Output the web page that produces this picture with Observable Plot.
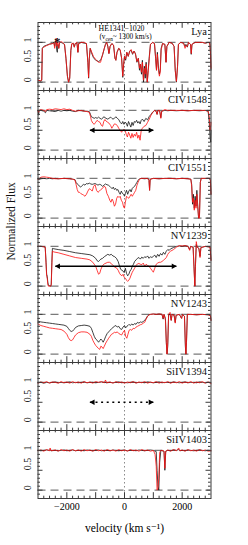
<!DOCTYPE html>
<html><head><meta charset="utf-8">
<script src="https://cdn.jsdelivr.net/npm/d3@7"></script>
<script src="https://cdn.jsdelivr.net/npm/@observablehq/plot@0.6"></script>
<style>body{margin:0;background:#fff}#chart{width:248px;height:545px}</style>
</head><body><div id="chart"></div>
<script>
// ---------------- data ----------------
const panels = ["Lya","CIV1548","CIV1551","NV1239","NV1243","SiIV1394","SiIV1403"];
const xMajorTicks = [-2000,-1000,0,1000,2000];
const xTickLabels = [-2000,0,2000];
const yMajorTicks = [0,0.5,1];
const yMinorTicks = [-0.1,0.1,0.2,0.3,0.4,0.6,0.7,0.8,0.9,1.1,1.2,1.3,1.4];
const xMinorTicks = [-2800,-2600,-2400,-2200,-1800,-1600,-1400,-1200,-800,-600,-400,-200,200,400,600,800,1200,1400,1600,1800,2200,2400,2600,2800];

// [velocity, black flux, red flux]
const lya = [[-3000,0.05,0.05],[-2900,0.03,0.03],[-2870,0.05,0.05],[-2850,0.85,0.85],[-2800,0.9,0.88],[-2700,0.93,0.92],[-2600,0.96,0.95],[-2500,0.97,0.97],[-2450,1.0,0.98],[-2420,0.9,0.85],[-2400,1.0,1.0],[-2370,1.02,1.1],[-2350,0.8,0.9],[-2330,0.75,0.95],[-2310,0.95,1.0],[-2280,0.85,0.85],[-2250,1.0,1.0],[-2200,1.0,1.02],[-2150,0.98,1.0],[-2080,0.95,0.95],[-2030,0.6,0.6],[-1980,0.15,0.15],[-1940,0.0,0.0],[-1900,0.1,0.1],[-1860,0.8,0.8],[-1830,0.95,0.97],[-1780,0.98,0.98],[-1740,0.88,0.88],[-1710,0.97,0.97],[-1650,0.98,1.0],[-1615,0.75,0.75],[-1590,0.97,0.97],[-1500,1.0,1.0],[-1400,0.98,1.0],[-1320,0.97,0.97],[-1270,0.5,0.5],[-1245,0.1,0.12],[-1220,0.6,0.6],[-1190,0.85,0.85],[-1150,0.75,0.78],[-1080,0.62,0.65],[-1000,0.55,0.57],[-900,0.52,0.5],[-830,0.55,0.5],[-760,0.68,0.7],[-700,0.85,0.85],[-660,0.95,0.95],[-620,1.0,1.0],[-580,0.9,0.92],[-540,0.72,0.72],[-500,0.9,0.9],[-440,0.97,0.97],[-380,0.93,0.93],[-330,0.6,0.6],[-300,0.55,0.55],[-260,0.75,0.75],[-200,0.85,0.85],[-150,0.8,0.82],[-100,0.6,0.6],[-60,0.12,0.15],[-30,0.45,0.45],[0,0.65,0.65],[40,0.55,0.58],[80,0.75,0.75],[130,0.65,0.65],[180,0.78,0.78],[230,0.8,0.82],[280,0.7,0.72],[330,0.78,0.78],[380,0.72,0.7],[430,0.5,0.52],[480,0.6,0.6],[520,0.3,0.35],[550,0.45,0.45],[590,0.2,0.25],[620,0.55,0.5],[660,0.0,0.05],[690,0.4,0.35],[720,0.1,0.2],[750,0.5,0.45],[790,0.0,0.0],[820,0.3,0.25],[860,0.65,0.6],[900,0.95,0.95],[980,1.0,1.0],[1040,0.97,0.97],[1080,0.6,0.6],[1110,0.3,0.3],[1140,0.75,0.7],[1180,0.35,0.3],[1210,0.2,0.15],[1240,0.3,0.25],[1270,0.85,0.8],[1320,0.97,0.97],[1400,0.95,0.95],[1440,0.5,0.5],[1470,0.9,0.9],[1550,1.0,1.0],[1650,0.98,0.98],[1720,0.9,0.9],[1760,0.3,0.3],[1800,0.0,0.02],[1840,0.4,0.4],[1870,0.95,0.95],[1950,1.0,1.0],[2050,0.98,0.98],[2100,0.9,0.85],[2130,0.95,0.92],[2180,0.88,0.9],[2220,1.0,1.0],[2290,0.95,0.95],[2315,0.7,0.72],[2340,0.95,0.95],[2450,1.0,1.0],[2600,1.0,1.0],[2700,1.0,1.0],[2800,0.98,0.98],[2900,1.0,1.0],[2960,0.98,0.98],[2985,0.7,0.7],[3000,0.3,0.35]];

const civ1548 = [[-3000,1.0,1.0],[-2980,0.88,0.95],[-2960,1.0,1.0],[-2900,1.0,1.02],[-2800,0.98,1.0],[-2740,0.94,0.97],[-2700,1.0,1.02],[-2600,0.99,1.03],[-2500,0.98,1.02],[-2400,0.97,1.04],[-2300,1.0,1.03],[-2200,0.98,1.02],[-2100,1.0,1.04],[-2000,0.99,1.02],[-1900,1.0,1.03],[-1800,0.98,1.0],[-1700,0.97,0.98],[-1600,1.0,0.99],[-1500,0.99,1.0],[-1400,0.98,0.98],[-1300,0.98,0.97],[-1220,0.97,0.95],[-1180,0.9,0.85],[-1150,0.84,0.75],[-1100,0.82,0.68],[-1050,0.8,0.65],[-1000,0.82,0.7],[-950,0.8,0.75],[-900,0.83,0.72],[-850,0.8,0.7],[-800,0.78,0.62],[-760,0.8,0.6],[-720,0.84,0.72],[-680,0.82,0.77],[-640,0.8,0.73],[-580,0.78,0.7],[-540,0.8,0.68],[-480,0.83,0.62],[-440,0.8,0.55],[-400,0.78,0.6],[-350,0.8,0.66],[-300,0.84,0.65],[-250,0.8,0.62],[-200,0.77,0.55],[-150,0.7,0.5],[-100,0.66,0.45],[-60,0.72,0.5],[-20,0.65,0.52],[20,0.7,0.5],[60,0.68,0.4],[100,0.6,0.33],[140,0.72,0.45],[180,0.65,0.38],[220,0.58,0.3],[260,0.7,0.42],[300,0.62,0.32],[340,0.72,0.4],[380,0.7,0.35],[420,0.75,0.45],[460,0.68,0.3],[500,0.72,0.38],[540,0.66,0.25],[580,0.75,0.5],[620,0.78,0.55],[680,0.72,0.6],[740,0.8,0.62],[800,0.76,0.7],[860,0.85,0.78],[920,0.9,0.88],[980,0.96,0.95],[1050,1.0,1.0],[1100,0.97,0.98],[1130,0.9,0.9],[1160,1.0,1.0],[1220,0.98,1.0],[1260,0.82,0.8],[1290,0.98,0.98],[1400,1.0,1.02],[1500,0.99,1.0],[1600,1.0,1.0],[1800,0.99,1.0],[2000,1.0,1.0],[2200,0.99,0.99],[2400,1.0,1.0],[2600,0.99,1.0],[2800,1.0,1.0],[2900,0.98,0.98],[2940,0.7,0.85],[2970,0.3,0.5],[2990,0.2,0.6],[3000,0.5,0.7]];

const civ1551 = [[-3000,0.98,0.98],[-2950,0.97,1.0],[-2900,0.99,1.03],[-2800,1.0,1.04],[-2700,0.99,1.03],[-2600,1.0,1.02],[-2500,0.99,1.0],[-2400,1.0,0.99],[-2300,0.99,0.99],[-2100,1.0,1.0],[-1900,0.99,0.99],[-1800,0.98,0.98],[-1720,0.97,0.96],[-1680,0.9,0.85],[-1640,0.86,0.72],[-1600,0.84,0.65],[-1560,0.8,0.65],[-1520,0.78,0.62],[-1470,0.82,0.6],[-1420,0.85,0.58],[-1370,0.83,0.55],[-1320,0.87,0.6],[-1270,0.86,0.68],[-1220,0.88,0.74],[-1170,0.86,0.72],[-1120,0.85,0.68],[-1070,0.86,0.8],[-1020,0.87,0.84],[-970,0.85,0.7],[-920,0.83,0.65],[-870,0.85,0.68],[-820,0.84,0.72],[-760,0.8,0.75],[-710,0.83,0.8],[-660,0.86,0.78],[-610,0.84,0.62],[-560,0.83,0.55],[-510,0.8,0.45],[-470,0.77,0.4],[-430,0.74,0.48],[-390,0.78,0.42],[-350,0.72,0.3],[-310,0.75,0.35],[-270,0.7,0.5],[-230,0.72,0.55],[-190,0.65,0.52],[-150,0.6,0.55],[-110,0.68,0.45],[-70,0.62,0.4],[-30,0.6,0.28],[0,0.55,0.25],[30,0.62,0.4],[70,0.7,0.55],[110,0.6,0.52],[150,0.68,0.5],[190,0.72,0.55],[230,0.66,0.6],[270,0.75,0.55],[310,0.78,0.6],[350,0.8,0.65],[390,0.85,0.7],[430,0.9,0.82],[470,0.95,0.9],[520,0.99,0.98],[580,1.0,1.0],[700,0.99,1.0],[800,1.0,1.0],[850,0.95,0.95],[870,0.7,0.7],[890,0.98,0.98],[1000,1.0,1.0],[1200,0.99,0.99],[1400,1.0,1.0],[1600,1.0,1.0],[1800,0.99,0.99],[2000,1.0,1.0],[2200,0.99,0.99],[2300,0.98,0.98],[2330,0.85,0.8],[2360,0.35,0.4],[2390,0.6,0.5],[2420,0.25,0.2],[2450,0.55,0.45],[2480,0.3,0.25],[2510,0.7,0.6],[2540,0.3,0.3],[2570,0.0,0.0],[2600,0.05,0.0],[2630,0.9,0.9],[2660,1.0,1.0],[2800,1.0,1.0],[2950,1.0,1.0],[2980,0.95,0.95],[3000,0.6,0.6]];

const nv1239 = [[-3000,1.0,1.0],[-2900,1.0,1.0],[-2800,0.99,0.99],[-2750,0.98,0.98],[-2720,0.6,0.55],[-2700,0.3,0.25],[-2680,0.25,0.2],[-2660,0.1,0.05],[-2640,0.02,0.0],[-2560,0.0,0.0],[-2540,0.05,0.03],[-2520,0.6,0.5],[-2500,0.95,0.88],[-2450,0.94,0.86],[-2300,0.92,0.84],[-2100,0.9,0.8],[-1900,0.87,0.76],[-1700,0.84,0.72],[-1500,0.82,0.7],[-1300,0.8,0.68],[-1200,0.79,0.66],[-1100,0.76,0.6],[-1000,0.7,0.5],[-950,0.64,0.4],[-900,0.62,0.3],[-860,0.65,0.32],[-820,0.68,0.42],[-760,0.7,0.52],[-700,0.74,0.56],[-640,0.77,0.58],[-580,0.8,0.6],[-520,0.78,0.6],[-460,0.8,0.57],[-400,0.76,0.52],[-340,0.74,0.48],[-280,0.7,0.46],[-220,0.62,0.4],[-170,0.5,0.32],[-130,0.42,0.28],[-90,0.4,0.26],[-50,0.38,0.3],[-10,0.34,0.22],[30,0.45,0.2],[70,0.32,0.15],[110,0.26,0.12],[150,0.3,0.15],[190,0.38,0.2],[230,0.42,0.28],[270,0.5,0.35],[310,0.55,0.4],[350,0.62,0.45],[400,0.66,0.52],[450,0.7,0.56],[500,0.72,0.57],[550,0.68,0.55],[600,0.73,0.54],[650,0.7,0.58],[700,0.74,0.5],[750,0.72,0.55],[800,0.76,0.52],[850,0.7,0.5],[900,0.74,0.45],[950,0.72,0.4],[1000,0.75,0.35],[1050,0.78,0.45],[1100,0.72,0.55],[1150,0.8,0.58],[1200,0.75,0.6],[1250,0.82,0.6],[1300,0.78,0.62],[1350,0.85,0.65],[1400,0.8,0.68],[1450,0.88,0.72],[1500,0.92,0.8],[1550,0.9,0.85],[1600,0.94,0.88],[1700,0.97,0.92],[1800,1.0,0.98],[1900,1.01,1.02],[2000,1.0,1.01],[2100,1.02,1.02],[2200,1.0,1.0],[2260,0.92,0.9],[2290,1.0,1.0],[2380,0.98,0.98],[2410,0.5,0.45],[2440,0.0,0.0],[2460,0.5,0.5],[2490,1.05,1.12],[2520,0.98,0.98],[2580,0.95,0.95],[2620,0.75,0.72],[2650,0.97,0.97],[2800,1.0,1.0],[2900,0.99,0.99],[2970,0.98,0.98],[3000,0.65,0.65]];

const nv1243 = [[-3000,0.83,0.76],[-2900,0.81,0.72],[-2800,0.8,0.7],[-2700,0.79,0.68],[-2600,0.78,0.66],[-2500,0.77,0.65],[-2400,0.76,0.64],[-2300,0.75,0.63],[-2200,0.74,0.62],[-2100,0.73,0.58],[-2000,0.7,0.5],[-1950,0.65,0.42],[-1900,0.6,0.36],[-1850,0.57,0.34],[-1800,0.58,0.36],[-1750,0.62,0.42],[-1700,0.67,0.48],[-1600,0.71,0.54],[-1500,0.72,0.56],[-1400,0.73,0.56],[-1300,0.72,0.55],[-1200,0.7,0.5],[-1150,0.65,0.45],[-1100,0.55,0.35],[-1050,0.45,0.28],[-1000,0.38,0.22],[-950,0.35,0.18],[-900,0.3,0.14],[-860,0.34,0.12],[-820,0.38,0.2],[-780,0.35,0.18],[-740,0.3,0.14],[-700,0.36,0.2],[-650,0.45,0.28],[-600,0.52,0.34],[-550,0.56,0.4],[-500,0.6,0.45],[-450,0.64,0.5],[-400,0.67,0.52],[-350,0.7,0.55],[-300,0.72,0.54],[-250,0.68,0.56],[-200,0.7,0.52],[-150,0.64,0.5],[-100,0.62,0.48],[-50,0.68,0.55],[0,0.72,0.6],[40,0.66,0.45],[80,0.7,0.4],[120,0.72,0.5],[160,0.75,0.6],[200,0.72,0.62],[250,0.76,0.6],[300,0.73,0.65],[350,0.77,0.64],[400,0.75,0.68],[450,0.8,0.7],[500,0.78,0.72],[550,0.81,0.74],[600,0.8,0.75],[650,0.82,0.78],[700,0.85,0.8],[750,0.9,0.88],[800,0.96,0.95],[850,0.99,0.99],[900,1.0,1.0],[1000,1.01,1.01],[1100,1.0,1.0],[1200,1.01,1.01],[1300,1.0,1.0],[1340,0.88,0.9],[1370,1.0,1.0],[1420,0.9,0.85],[1450,0.3,0.3],[1475,0.0,0.0],[1500,0.2,0.3],[1530,1.0,1.0],[1580,1.0,1.05],[1620,0.85,0.85],[1650,1.0,1.0],[1720,0.98,0.98],[1760,0.8,0.78],[1790,0.98,0.98],[1900,1.0,1.0],[1980,0.9,0.9],[2010,1.0,1.0],[2080,0.95,0.95],[2110,0.2,0.3],[2130,0.0,0.0],[2150,0.3,0.3],[2180,1.0,1.0],[2300,1.0,1.0],[2500,0.99,0.99],[2700,1.0,1.0],[2900,0.99,0.99],[2980,0.97,0.97],[3000,0.85,0.85]];

const siiv1394 = [[-3000,0.99,0.98],[-2900,1.0,1.01],[-2800,0.98,0.99],[-2700,1.0,1.02],[-2600,0.99,0.98],[-2500,1.0,1.01],[-2400,1.01,1.0],[-2300,0.99,0.98],[-2200,1.0,1.02],[-2100,0.99,0.99],[-2000,1.0,1.01],[-1900,1.01,0.98],[-1800,0.99,1.02],[-1700,1.0,0.99],[-1600,0.99,1.01],[-1500,1.0,0.98],[-1400,1.01,1.02],[-1300,0.99,0.99],[-1200,1.0,1.01],[-1100,1.0,0.98],[-1000,0.99,1.02],[-900,1.0,1.0],[-800,1.01,1.02],[-700,1.0,0.99],[-660,1.0,1.06],[-620,0.99,0.99],[-500,1.0,1.01],[-400,0.99,0.98],[-300,1.0,1.02],[-200,1.01,0.99],[-100,0.99,1.01],[0,1.0,0.98],[100,0.99,1.01],[200,1.0,0.99],[300,1.01,1.02],[400,0.99,0.98],[500,1.0,1.01],[600,1.0,0.99],[700,0.99,1.02],[800,1.01,0.98],[900,1.0,1.01],[1000,0.99,0.99],[1100,1.0,1.02],[1200,1.01,0.98],[1300,0.99,1.01],[1400,1.0,0.99],[1500,1.0,1.02],[1600,0.99,0.98],[1700,1.01,1.01],[1800,1.0,0.99],[1900,0.99,1.02],[2000,1.0,0.98],[2100,1.01,1.01],[2200,0.99,0.99],[2300,1.0,1.02],[2400,1.0,0.98],[2500,0.99,1.01],[2600,1.01,0.99],[2700,1.0,1.02],[2800,0.99,0.98],[2900,1.0,1.01],[3000,0.99,0.97]];

const siiv1403 = [[-3000,1.0,0.99],[-2900,0.99,1.01],[-2800,1.0,0.98],[-2700,1.01,1.02],[-2600,1.0,0.99],[-2580,1.02,1.06],[-2550,0.99,0.99],[-2400,1.0,1.01],[-2300,0.99,0.98],[-2200,1.0,1.02],[-2100,1.01,0.99],[-2000,0.99,1.01],[-1900,1.0,0.98],[-1800,1.01,1.02],[-1700,0.99,0.99],[-1600,1.0,1.01],[-1500,1.0,0.98],[-1400,0.99,1.02],[-1300,1.01,0.99],[-1200,1.0,1.01],[-1100,0.99,0.98],[-1000,1.0,1.02],[-900,1.01,0.99],[-800,0.99,1.01],[-700,1.0,0.98],[-600,1.0,1.02],[-500,0.99,0.99],[-400,1.01,1.01],[-300,1.0,0.98],[-200,0.99,1.02],[-100,1.0,0.99],[0,1.01,1.01],[100,0.99,0.98],[200,1.0,1.02],[300,1.0,0.99],[400,0.99,1.01],[500,1.01,0.98],[600,1.0,1.02],[700,0.99,0.99],[800,1.0,1.01],[900,1.01,0.98],[1000,1.0,1.0],[1060,0.98,0.9],[1100,0.97,0.6],[1130,0.5,0.0],[1160,0.1,0.05],[1190,0.0,0.3],[1220,0.7,0.95],[1260,1.0,1.0],[1300,0.99,1.0],[1370,0.98,0.98],[1400,0.5,0.55],[1430,0.98,0.98],[1500,1.0,1.01],[1600,0.99,0.98],[1700,1.01,1.02],[1800,1.0,0.99],[1880,1.02,1.06],[1920,0.99,0.99],[2000,1.0,1.01],[2100,0.99,0.98],[2200,1.01,1.02],[2300,1.0,0.99],[2400,0.99,1.01],[2500,1.0,0.98],[2600,1.01,1.02],[2700,1.0,0.99],[2800,0.99,1.01],[2900,1.0,0.98],[3000,0.99,0.99]];

const spectraByPanel = {"Lya":lya,"CIV1548":civ1548,"CIV1551":civ1551,"NV1239":nv1239,"NV1243":nv1243,"SiIV1394":siiv1394,"SiIV1403":siiv1403};

// velocity ranges marked by arrows (km/s) at flux 0.5
const arrows = [
  {panel:"CIV1548", v1:-1200, v2:1000, f:0.5, dotted:false},
  {panel:"NV1239", v1:-2400, v2:1800, f:0.5, dotted:false},
  {panel:"SiIV1394", v1:-1200, v2:1000, f:0.5, dotted:true}
];
const starMarks = [{panel:"Lya", v:-2330, f:1.1}];
const titleLines = [{panel:"Lya", text:"HE1341\u22121020"}];
const subtitleLines = [{panel:"Lya", text:"(vcen~ 1300 km/s)"}];

// ---------------- build ----------------
const rows = [];
for (const p of panels) {
  for (const [v,b,r] of spectraByPanel[p]) {
    rows.push({panel:p, series:"black", v, f:b});
    rows.push({panel:p, series:"red", v, f:r});
  }
}
const heads = [];
for (const a of arrows) {
  heads.push({panel:a.panel, v:a.v1, f:a.f, side:"left"});
  heads.push({panel:a.panel, v:a.v2, f:a.f, side:"right"});
}

const W = 248, H = 545, mT = 21.7, mB = 46, mL = 37.5, mR = 37.5;
const panelH = (H - mT - mB) / panels.length;
const frameW = W - mL - mR;
const axisColor = "#3a3a3a";
const fmt = d => d < 0 ? "\u2212" + (-d) : String(d);

const chart = Plot.plot({
  width: W, height: H,
  marginTop: mT, marginBottom: mB, marginLeft: mL, marginRight: mR,
  style: {fontFamily: "'Liberation Serif', 'DejaVu Serif', serif", fontSize: "10px", background: "white", overflow: "visible"},
  x: {domain: [-3000, 3000]},
  y: {domain: [-0.21, 1.5], axis: null},
  fy: {domain: panels, axis: null, padding: 0},
  marks: [
    Plot.ruleY([0, 1], {stroke: "#7a7a7a", strokeDasharray: "8,5", strokeWidth: 1.2}),
    Plot.ruleX([0], {stroke: "#8a8a8a", strokeDasharray: "1.5,2.5", strokeWidth: 1}),
    Plot.line(rows, {filter: d => d.series === "black", x: "v", y: "f", fy: "panel", stroke: "#111", strokeWidth: 0.8, strokeLinejoin: "round"}),
    Plot.line(rows, {filter: d => d.series === "red", x: "v", y: "f", fy: "panel", stroke: "#ff1010", strokeWidth: 0.8, strokeLinejoin: "round"}),
    // arrows
    Plot.link(arrows, {filter: d => !d.dotted, x1: "v1", x2: "v2", y1: "f", y2: "f", fy: "panel", stroke: "black", strokeWidth: 1.3}),
    Plot.link(arrows, {filter: d => d.dotted, x1: "v1", x2: "v2", y1: "f", y2: "f", fy: "panel", stroke: "black", strokeWidth: 1.3, strokeDasharray: "2,3.6"}),
    Plot.dot(heads, {filter: d => d.side === "right", x: "v", y: "f", fy: "panel", symbol: "triangle", rotate: 90, r: 2.1, fill: "black", stroke: "none", dx: -3}),
    Plot.dot(heads, {filter: d => d.side === "left", x: "v", y: "f", fy: "panel", symbol: "triangle", rotate: -90, r: 2.1, fill: "black", stroke: "none", dx: 3}),
    // frame and inner ticks
    Plot.frame({stroke: axisColor, strokeWidth: 1}),
    Plot.tickX(xMajorTicks, {x: d => d, insetBottom: panelH - 6, stroke: axisColor}),
    Plot.tickX(xMajorTicks, {x: d => d, insetTop: panelH - 6, stroke: axisColor}),
    Plot.tickX(xMinorTicks, {x: d => d, insetBottom: panelH - 2.5, stroke: axisColor}),
    Plot.tickX(xMinorTicks, {x: d => d, insetTop: panelH - 2.5, stroke: axisColor}),
    Plot.tickY(yMajorTicks, {y: d => d, insetRight: frameW - 5, stroke: axisColor}),
    Plot.tickY(yMajorTicks, {y: d => d, insetLeft: frameW - 5, stroke: axisColor}),
    Plot.tickY(yMinorTicks, {y: d => d, insetRight: frameW - 2.5, stroke: axisColor}),
    Plot.tickY(yMinorTicks, {y: d => d, insetLeft: frameW - 2.5, stroke: axisColor}),
    // y tick labels (rotated)
    Plot.text(yMajorTicks, {y: d => d, text: d => String(d), frameAnchor: "left", dx: -10.5, rotate: -90, fontSize: 10, fill: "#222"}),
    // panel labels
    Plot.text(panels, {fy: d => d, text: d => d, frameAnchor: "top-right", textAnchor: "end", lineAnchor: "middle", dx: -4, dy: 9.5, fontSize: 10.5, fill: "#111"}),
    // title
    Plot.text(titleLines, {fy: "panel", text: "text", frameAnchor: "top", lineAnchor: "middle", dx: -3, dy: 5.8, fontSize: 7.8, fill: "#000"}),
    Plot.text(subtitleLines, {fy: "panel", text: "text", frameAnchor: "top", lineAnchor: "middle", dx: 1, dy: 14.6, fontSize: 7.3, fill: "#000"}),
    Plot.text(starMarks, {x: "v", y: "f", fy: "panel", text: () => "*", fontSize: 13, fontWeight: "bold", dy: 3, fill: "#111"}),
    // y label
    Plot.text([{panel: "NV1239", text: "Normalized Flux"}], {fy: "panel", text: "text", frameAnchor: "left", dx: -26.5, rotate: -90, fontSize: 11.5, fill: "#111"}),
    // x axis
    Plot.axisX({ticks: xTickLabels, tickSize: 0, tickPadding: 4, tickFormat: fmt, fontSize: 10, label: "velocity (km s\u207B\u00B9)", labelAnchor: "center", labelOffset: 33, labelArrow: "none"})
  ]
});

// subscript in subtitle
d3.select(chart).selectAll("text").filter(function(){ return this.textContent === "(vcen~ 1300 km/s)"; })
  .each(function(){
    const t = d3.select(this);
    t.text(null);
    t.append("tspan").text("(v");
    t.append("tspan").attr("dy", 1.8).attr("font-size", 5.3).text("cen");
    t.append("tspan").attr("dy", -1.8).text("~ 1300 km/s)");
  });
// larger axis title
d3.select(chart).selectAll("text").filter(function(){ return this.textContent.startsWith("velocity"); })
  .attr("font-size", 11.5);

document.getElementById("chart").appendChild(chart);
</script>
</body></html>
